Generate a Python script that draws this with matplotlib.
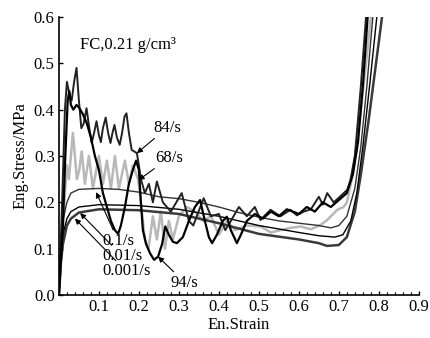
import numpy as np
import matplotlib
matplotlib.use("Agg")
import matplotlib.pyplot as plt
from matplotlib.ticker import MultipleLocator, FormatStrFormatter, FixedLocator

plt.rcParams['font.family'] = ['Liberation Serif', 'DejaVu Serif']

# Quasi-static curves (smooth)
x_0001 = [0, 0.005, 0.01, 0.02, 0.03, 0.05, 0.1, 0.2, 0.3, 0.4, 0.5, 0.55, 0.6, 0.65,
          0.67, 0.7, 0.72, 0.74, 0.755, 0.775, 0.79, 0.808]
y_0001 = [0, 0.07, 0.11, 0.15, 0.165, 0.178, 0.185, 0.183, 0.175, 0.155, 0.132, 0.126,
          0.12, 0.112, 0.106, 0.108, 0.125, 0.18, 0.26, 0.38, 0.48, 0.6]

x_001 = [0, 0.005, 0.01, 0.02, 0.03, 0.05, 0.1, 0.2, 0.3, 0.4, 0.5, 0.6, 0.65, 0.69,
         0.71, 0.73, 0.745, 0.76, 0.778, 0.795]
y_001 = [0, 0.09, 0.13, 0.165, 0.18, 0.19, 0.195, 0.193, 0.185, 0.17, 0.15, 0.135,
         0.128, 0.125, 0.13, 0.16, 0.22, 0.32, 0.46, 0.6]

x_01 = [0, 0.005, 0.01, 0.02, 0.03, 0.05, 0.1, 0.15, 0.2, 0.25, 0.3, 0.35, 0.4, 0.45,
        0.5, 0.55, 0.6, 0.65, 0.68, 0.7, 0.72, 0.74, 0.755, 0.77, 0.785]
y_01 = [0, 0.1, 0.16, 0.2, 0.22, 0.228, 0.23, 0.228, 0.222, 0.212, 0.208, 0.2, 0.19,
        0.178, 0.168, 0.16, 0.155, 0.15, 0.145, 0.15, 0.17, 0.23, 0.32, 0.45, 0.6]

# Dynamic curves (oscillating)
x_68 = [0, 0.008, 0.015, 0.02, 0.025, 0.03, 0.035, 0.04, 0.045, 0.051, 0.057, 0.065,
        0.075, 0.085, 0.1, 0.11, 0.12, 0.13, 0.14, 0.15, 0.165, 0.175, 0.185, 0.198,
        0.205, 0.215, 0.224, 0.235, 0.245, 0.255, 0.265, 0.275, 0.285, 0.3, 0.32,
        0.34, 0.36, 0.38, 0.4, 0.42, 0.44, 0.47, 0.504, 0.53, 0.554, 0.58, 0.604,
        0.63, 0.654, 0.671, 0.696, 0.712, 0.72, 0.735, 0.755, 0.768, 0.78]
y_68 = [0, 0.12, 0.22, 0.28, 0.25, 0.3, 0.35, 0.3, 0.25, 0.27, 0.31, 0.24, 0.3, 0.23,
        0.3, 0.24, 0.29, 0.23, 0.3, 0.23, 0.29, 0.24, 0.28, 0.25, 0.2, 0.12, 0.1,
        0.17, 0.12, 0.18, 0.1, 0.16, 0.12, 0.17, 0.19, 0.18, 0.16, 0.17, 0.13, 0.16,
        0.14, 0.15, 0.148, 0.135, 0.14, 0.145, 0.148, 0.142, 0.151, 0.162, 0.184,
        0.19, 0.2, 0.26, 0.4, 0.5, 0.6]

x_84 = [0, 0.008, 0.015, 0.02, 0.027, 0.032, 0.038, 0.044, 0.05, 0.056, 0.062, 0.069,
        0.076, 0.082, 0.088, 0.094, 0.1, 0.105, 0.11, 0.117, 0.123, 0.129, 0.134,
        0.139, 0.145, 0.152, 0.158, 0.164, 0.169, 0.175, 0.182, 0.188, 0.195, 0.2,
        0.205, 0.215, 0.225, 0.235, 0.245, 0.26, 0.28, 0.307, 0.325, 0.336, 0.362,
        0.38, 0.4, 0.416, 0.43, 0.45, 0.47, 0.49, 0.504, 0.529, 0.554, 0.579, 0.595,
        0.612, 0.63, 0.65, 0.66, 0.671, 0.687, 0.7, 0.721, 0.729, 0.74, 0.755, 0.768]
y_84 = [0, 0.2, 0.4, 0.46, 0.43, 0.42, 0.46, 0.49, 0.42, 0.36, 0.37, 0.403, 0.36,
        0.328, 0.35, 0.375, 0.345, 0.33, 0.36, 0.383, 0.35, 0.328, 0.35, 0.367, 0.34,
        0.324, 0.35, 0.385, 0.392, 0.35, 0.313, 0.31, 0.306, 0.28, 0.25, 0.22, 0.24,
        0.2, 0.245, 0.2, 0.18, 0.22, 0.16, 0.15, 0.209, 0.17, 0.175, 0.14, 0.16, 0.19,
        0.17, 0.19, 0.162, 0.184, 0.17, 0.184, 0.172, 0.18, 0.185, 0.212, 0.195,
        0.22, 0.2, 0.21, 0.227, 0.248, 0.3, 0.45, 0.6]

x_94 = [0, 0.01, 0.016, 0.022, 0.026, 0.03, 0.036, 0.044, 0.05, 0.06, 0.07, 0.08,
        0.09, 0.1, 0.11, 0.12, 0.13, 0.14, 0.148, 0.155, 0.165, 0.175, 0.185, 0.193,
        0.2, 0.205, 0.21, 0.218, 0.228, 0.238, 0.248, 0.258, 0.266, 0.275, 0.285,
        0.295, 0.31, 0.325, 0.34, 0.353, 0.365, 0.375, 0.383, 0.395, 0.41, 0.42, 0.43,
        0.445, 0.455, 0.47, 0.49, 0.51, 0.53, 0.55, 0.57, 0.6, 0.62, 0.64, 0.66, 0.68,
        0.7, 0.72, 0.735, 0.748, 0.76, 0.772]
y_94 = [0, 0.15, 0.3, 0.42, 0.44, 0.41, 0.4, 0.41, 0.405, 0.39, 0.37, 0.34, 0.3,
        0.27, 0.22, 0.19, 0.16, 0.14, 0.132, 0.15, 0.19, 0.24, 0.27, 0.29, 0.27, 0.2,
        0.14, 0.11, 0.09, 0.076, 0.083, 0.11, 0.148, 0.13, 0.115, 0.112, 0.125, 0.16,
        0.19, 0.205, 0.16, 0.125, 0.112, 0.13, 0.16, 0.169, 0.14, 0.112, 0.13, 0.16,
        0.175, 0.165, 0.18, 0.17, 0.185, 0.175, 0.19, 0.18, 0.2, 0.19, 0.205, 0.22,
        0.26, 0.33, 0.45, 0.6]

x_ticks = [0.1, 0.2, 0.3, 0.4, 0.5, 0.6, 0.7, 0.8, 0.9]
y_ticks = [0.0, 0.1, 0.2, 0.3, 0.4, 0.5, 0.6]

fig = plt.figure(figsize=(4.3, 3.38), dpi=100)
ax = fig.add_axes([0.137, 0.127, 0.837, 0.823])

ax.plot(x_68, y_68, color='#b8b8b8', lw=1.8)
ax.plot(x_0001, y_0001, color='#3a3a3a', lw=1.8)
ax.plot(x_001, y_001, color='black', lw=1.0)
ax.plot(x_01, y_01, color='#333333', lw=1.0)
ax.plot(x_84, y_84, color='#222222', lw=1.4)
ax.plot(x_94, y_94, color='black', lw=1.6)

ax.set_xlim(0, 0.9)
ax.set_ylim(0, 0.6)
ax.xaxis.set_major_locator(FixedLocator(x_ticks))
ax.xaxis.set_minor_locator(MultipleLocator(0.02))
ax.yaxis.set_major_locator(FixedLocator(y_ticks))
ax.xaxis.set_major_formatter(FormatStrFormatter('%.1f'))
ax.yaxis.set_major_formatter(FormatStrFormatter('%.1f'))
ax.tick_params(direction='in', labelsize=12, length=3, width=1, pad=3)
ax.tick_params(which='minor', direction='in', length=2, width=0.8)
for s in ['top', 'right']:
    ax.spines[s].set_visible(False)
for s in ['left', 'bottom']:
    ax.spines[s].set_linewidth(1.2)

ax.set_xlabel('En.Strain', fontsize=12, labelpad=1)
ax.set_ylabel('Eng.Stress/MPa', fontsize=12, labelpad=4)

ax.text(0.053, 0.54, 'FC,0.21 g/cm³', fontsize=12, va='center')

arrow = dict(arrowstyle='-|>', color='black', lw=0.8, mutation_scale=8,
             shrinkA=0, shrinkB=0)
ax.annotate('84/s', xy=(0.195, 0.306), xytext=(0.236, 0.361), fontsize=12,
            va='center', arrowprops=arrow)
ax.annotate('68/s', xy=(0.199, 0.248), xytext=(0.241, 0.296), fontsize=12,
            va='center', arrowprops=arrow)
ax.annotate('0.1/s', xy=(0.093, 0.222), xytext=(0.108, 0.117), fontsize=12,
            va='center', arrowprops=arrow)
ax.annotate('0.01/s', xy=(0.053, 0.177), xytext=(0.108, 0.084), fontsize=12,
            va='center', arrowprops=arrow)
ax.annotate('0.001/s', xy=(0.04, 0.165), xytext=(0.108, 0.051), fontsize=12,
            va='center', arrowprops=arrow)
ax.annotate('94/s', xy=(0.248, 0.083), xytext=(0.28, 0.027), fontsize=12,
            va='center', arrowprops=arrow)

fig.savefig('out.png', dpi=100)
